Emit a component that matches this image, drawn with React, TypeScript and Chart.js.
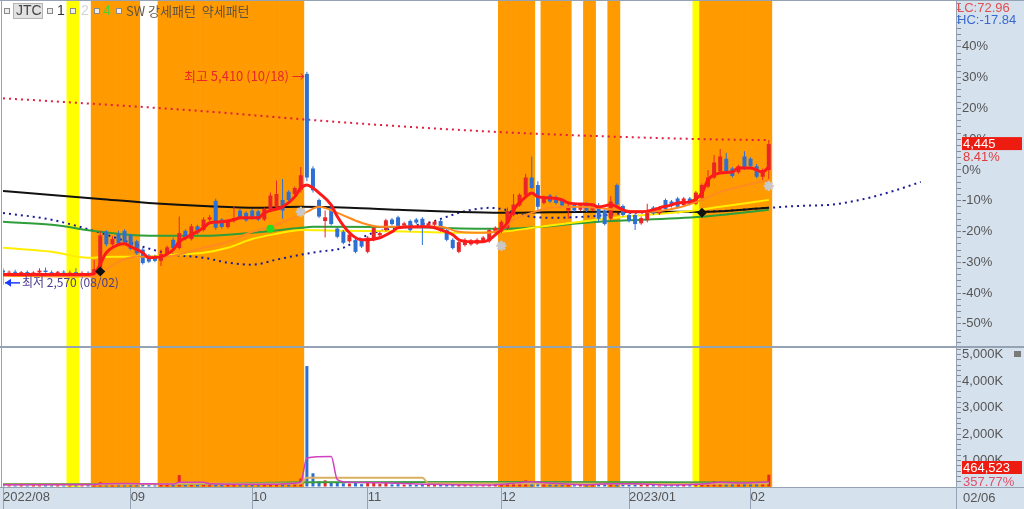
import React, { useEffect, useRef } from 'react';
import { Chart, registerables } from 'chart.js';

Chart.register(...registerables);

// ---------- categories: trading days 2022/08/02 .. 2023/02/06 ----------
const AUG_2022 = [2, 3, 4, 5, 8, 9, 10, 11, 12, 16, 17, 18, 19, 22, 23, 24, 25, 26, 29, 30, 31];
const SEP_2022 = [1, 2, 5, 6, 7, 8, 13, 14, 15, 16, 19, 20, 21, 22, 23, 26, 27, 28, 29, 30];
const OCT_2022 = [4, 5, 6, 7, 11, 12, 13, 14, 17, 18, 19, 20, 21, 24, 25, 26, 27, 28, 31];
const NOV_2022 = [1, 2, 3, 4, 7, 8, 9, 10, 11, 14, 15, 16, 17, 18, 21, 22, 23, 24, 25, 28, 29, 30];
const DEC_2022 = [1, 2, 5, 6, 7, 8, 9, 12, 13, 14, 15, 16, 19, 20, 21, 22, 23, 26, 27, 28, 29];
const JAN_2023 = [2, 3, 4, 5, 6, 9, 10, 11, 12, 13, 16, 17, 18, 19, 20, 25, 26, 27, 30, 31];
const FEB_2023 = [1, 2, 3, 6];
const MONTH_NUMS = ['08', '09', '10', '11', '12', '01', '02'];
const MONTH_TICK_LABELS = ['2022/08', '09', '10', '11', '12', '2023/01', '02'];
const MONTH_DAYS = [AUG_2022, SEP_2022, OCT_2022, NOV_2022, DEC_2022, JAN_2023, FEB_2023];
const FUTURE_SLOTS = 31;

// ---------- daily candles (KRW) ----------
const OPEN = [
  2760, 2735, 2745, 2730, 2740, 2725, 2735, 2760, 2740, 2730, 2745, 2735, 2740, 2725, 2730, 2720, 2800, 3280, 3110, 3250,
  3290, 3230, 3150, 3040, 2960, 2950, 2890, 2980, 3170, 3060, 3290, 3180, 3350, 3300, 3440, 3690, 3440, 3340, 3420, 3560,
  3530, 3560, 3550, 3440, 3570, 3600, 3700, 3810, 3780, 3835, 5380, 4120, 3700, 3420, 3600, 3320, 3280, 3150, 3170, 3170,
  3010, 3170, 3230, 3300, 3440, 3470, 3360, 3420, 3440, 3450, 3360, 3370, 3420, 3300, 3170, 3010, 3100, 3110, 3120, 3150,
  3150, 3270, 3280, 3320, 3500, 3630, 3760, 4000, 3900, 3660, 3760, 3740, 3700, 3560, 3640, 3570, 3650, 3570, 3610, 3560,
  3450, 3900, 3620, 3500, 3500, 3390, 3430, 3600, 3520, 3700, 3680, 3720, 3630, 3720, 3650, 3730, 3880, 4000, 4080, 4250,
  4120, 4070, 4280, 4250, 4150, 4010, 4100,
];
const HIGH = [
  2790, 2760, 2770, 2755, 2760, 2750, 2790, 2800, 2760, 2755, 2765, 2760, 2790, 2750, 2750, 2900, 3290, 3300, 3220, 3290,
  3310, 3250, 3170, 3060, 2980, 2970, 3040, 3090, 3200, 3480, 3310, 3380, 3370, 3470, 3500, 3720, 3460, 3440, 3620, 3580,
  3550, 3580, 3570, 3600, 3800, 3960, 3980, 3830, 3880, 4140, 5410, 4150, 3720, 3560, 3620, 3340, 3300, 3260, 3190, 3190,
  3220, 3350, 3280, 3450, 3460, 3490, 3410, 3440, 3460, 3470, 3410, 3430, 3440, 3320, 3190, 3160, 3190, 3180, 3190, 3220,
  3320, 3350, 3430, 3600, 3780, 3790, 4050, 4280, 3950, 3760, 3780, 3760, 3720, 3650, 3660, 3660, 3670, 3650, 3660, 3580,
  3750, 3920, 3640, 3520, 3520, 3480, 3650, 3620, 3620, 3720, 3700, 3740, 3740, 3740, 3820, 3920, 4100, 4300, 4380, 4330,
  4140, 4170, 4350, 4270, 4180, 4120, 4500,
];
const LOW = [
  2570, 2700, 2715, 2700, 2715, 2700, 2720, 2730, 2710, 2710, 2720, 2710, 2715, 2700, 2690, 2680, 2780, 3080, 3090, 3100,
  3120, 3030, 2970, 2840, 2860, 2870, 2820, 2960, 3040, 3040, 3160, 3160, 3240, 3280, 3420, 3300, 3320, 3320, 3400, 3440,
  3410, 3440, 3420, 3420, 3550, 3580, 3450, 3680, 3760, 3800, 3950, 3800, 3460, 3200, 3360, 3190, 3110, 3130, 2990, 3060,
  2990, 3150, 3210, 3280, 3360, 3320, 3340, 3280, 3380, 3100, 3340, 3350, 3280, 3150, 3040, 2990, 3080, 3090, 3100, 3130,
  3130, 3250, 3260, 3300, 3480, 3610, 3740, 3840, 3570, 3640, 3660, 3640, 3610, 3450, 3540, 3550, 3540, 3550, 3400, 3360,
  3430, 3620, 3480, 3400, 3300, 3370, 3400, 3500, 3500, 3560, 3600, 3590, 3610, 3630, 3630, 3710, 3860, 3980, 4060, 4060,
  4000, 4050, 4100, 4130, 3990, 3960, 3980,
];
const CLOSE = [
  2735, 2745, 2730, 2740, 2725, 2735, 2760, 2740, 2730, 2745, 2735, 2740, 2725, 2730, 2720, 2780, 3230, 3110, 3180, 3120,
  3140, 3050, 2990, 2860, 2880, 2890, 2980, 3070, 3060, 3260, 3180, 3350, 3260, 3440, 3470, 3330, 3340, 3420, 3460, 3460,
  3430, 3460, 3440, 3580, 3760, 3780, 3560, 3700, 3860, 4030, 4000, 3830, 3480, 3470, 3380, 3210, 3130, 3240, 3010, 3080,
  3200, 3330, 3260, 3430, 3380, 3340, 3390, 3300, 3400, 3350, 3390, 3410, 3300, 3170, 3060, 3140, 3170, 3160, 3170, 3200,
  3300, 3330, 3410, 3550, 3640, 3770, 4000, 3860, 3610, 3740, 3680, 3660, 3630, 3620, 3560, 3640, 3560, 3630, 3450, 3380,
  3680, 3640, 3500, 3420, 3380, 3460, 3560, 3520, 3600, 3580, 3620, 3610, 3720, 3650, 3800, 3900, 4000, 4200, 4280, 4080,
  4020, 4150, 4120, 4150, 4010, 4100, 4445,
];
const VOLUME = [
  90000, 70000, 65000, 80000, 60000, 75000, 110000, 95000, 70000, 85000, 60000, 70000, 100000, 65000, 75000, 140000, 180000, 120000, 90000, 100000,
  110000, 90000, 80000, 110000, 70000, 60000, 100000, 90000, 80000, 450000, 150000, 130000, 90000, 110000, 80000, 140000, 90000, 80000, 110000, 70000,
  70000, 80000, 70000, 90000, 150000, 180000, 130000, 90000, 110000, 320000, 4570000, 520000, 220000, 250000, 180000, 160000, 140000, 130000, 150000, 110000,
  200000, 180000, 120000, 160000, 100000, 110000, 90000, 100000, 80000, 120000, 90000, 80000, 100000, 110000, 120000, 100000, 80000, 70000, 60000, 70000,
  90000, 80000, 120000, 200000, 180000, 160000, 250000, 220000, 180000, 110000, 100000, 90000, 80000, 100000, 70000, 80000, 90000, 70000, 110000, 120000,
  170000, 200000, 100000, 90000, 110000, 80000, 120000, 70000, 60000, 80000, 70000, 80000, 90000, 70000, 110000, 180000, 160000, 220000, 200000, 150000,
  120000, 130000, 150000, 110000, 140000, 101476, 464523,
];

// ---------- indicator lines: [day index, value] ----------
const MA_SHORT: [number, number][] = [
  [0, 2707], [14, 2707], [15, 2720], [17, 2999], [19, 3105], [20, 3118], [21, 3078], [23, 2999], [24, 2932], [26, 2946],
  [28, 3038], [29, 3145], [31, 3237], [33, 3330], [34, 3397], [36, 3410], [38, 3437], [39, 3463], [42, 3463], [43, 3529],
  [46, 3609], [48, 3742], [49, 3861], [50, 3901], [51, 3861], [52, 3795], [54, 3636], [55, 3480], [57, 3264], [59, 3171],
  [60, 3171], [62, 3198], [64, 3277], [65, 3330], [69, 3344], [70, 3344], [72, 3304], [74, 3237], [75, 3171], [77, 3145],
  [79, 3145], [80, 3171], [81, 3237], [83, 3397], [84, 3569], [86, 3742], [87, 3795], [88, 3742], [90, 3728], [92, 3702],
  [93, 3662], [97, 3636], [98, 3609], [100, 3636], [102, 3569], [103, 3543], [105, 3543], [107, 3569], [108, 3596], [110, 3636],
  [111, 3662], [113, 3675], [115, 3795], [116, 3967], [118, 4060], [120, 4073], [121, 4127], [123, 4127], [125, 4073], [126, 4140],
];
const MA_MID: [number, number][] = [
  [0, 2693], [15, 2680], [16, 2720], [19, 2880], [22, 2946], [25, 2946], [28, 2959], [33, 3065], [37, 3145], [41, 3277],
  [44, 3344], [47, 3437], [50, 3543], [52, 3609], [55, 3529], [59, 3397], [62, 3344], [69, 3344], [72, 3344], [75, 3277],
  [79, 3264], [82, 3304], [84, 3437], [87, 3529], [90, 3596], [95, 3609], [101, 3569], [106, 3543], [111, 3596], [115, 3702],
  [118, 3808], [121, 3874], [126, 3967],
];
const MA_YELLOW: [number, number][] = [
  [0, 3065], [8, 3012], [14, 2932], [18, 2946], [23, 2946], [28, 2972], [33, 2999], [37, 3065], [41, 3180], [45, 3250],
  [49, 3300], [56, 3290], [66, 3280], [74, 3264], [82, 3277], [88, 3340], [95, 3410], [102, 3476], [112, 3543], [118, 3609],
  [126, 3702],
];
const MA_GREEN: [number, number][] = [
  [0, 3410], [8, 3370], [16, 3277], [24, 3224], [33, 3224], [41, 3264], [49, 3330], [51, 3344], [65, 3340], [82, 3317],
  [98, 3410], [115, 3476], [126, 3569],
];
const MA_BLACK: [number, number][] = [
  [0, 3821], [8, 3768], [16, 3715], [24, 3662], [33, 3622], [42, 3596], [49, 3609], [57, 3596], [65, 3569], [74, 3543],
  [82, 3529], [98, 3543], [115, 3543], [126, 3596],
];
const DOTTED_RED: [number, number][] = [
  [0, 5055], [16, 4976], [33, 4883], [49, 4777], [65, 4684], [82, 4604], [98, 4551], [115, 4511], [126, 4498],
];
const DOTTED_NAVY: [number, number][] = [
  [0, 3529], [8, 3437], [16, 3264], [23, 3078], [28, 2972], [33, 2932], [37, 2866], [41, 2839], [45, 2906], [49, 2972],
  [52, 3012], [56, 3065], [59, 3198], [61, 3264], [65, 3330], [70, 3397], [73, 3476], [75, 3529], [77, 3569], [80, 3596],
  [82, 3582], [86, 3490], [90, 3463], [98, 3490], [103, 3529], [115, 3543], [126, 3596], [131, 3622], [136, 3636], [141, 3702],
  [146, 3808], [151, 3941],
];
const VOL_MA_SHORT: [number, number][] = [
  [0, 85000], [15, 95000], [16, 120000], [20, 130000], [28, 110000], [29, 180000], [33, 180000], [34, 120000], [44, 100000], [48, 140000],
  [49, 190000], [50, 1100000], [54, 1150000], [55, 280000], [57, 180000], [62, 160000], [70, 100000], [80, 80000], [83, 120000], [87, 200000],
  [90, 150000], [96, 85000], [100, 120000], [104, 120000], [110, 75000], [115, 110000], [118, 180000], [122, 150000], [126, 200000],
];
const VOL_MA_MID: [number, number][] = [
  [0, 90000], [16, 95000], [29, 120000], [49, 130000], [50, 350000], [69, 350000], [70, 140000], [90, 130000], [110, 110000], [126, 140000],
];
const VOL_MA_LONG: [number, number][] = [
  [0, 110000], [30, 110000], [50, 180000], [80, 190000], [109, 180000], [126, 160000],
];

// ---------- signal markers ----------
const STAR_MARKS: [number, number][] = [[49, 3543], [82, 3090], [126, 3888]];
const GREEN_MARKS: [number, number][] = [[44, 3317]];
const DIAMOND_MARKS: [number, number][] = [[16, 2747], [115, 3530]];

// ---------- pattern bands (day-index ranges) ----------
const STRONG_RANGES: [number, number][] = [[15, 22], [26, 49], [82, 87], [89, 93], [96, 97], [100, 101], [115, 126]];
const WEAK_RANGES: [number, number][] = [[11, 12], [114, 114]];

// ---------- axis settings ----------
const BASE_PRICE = 4100; // previous close = 0%
const PCT_MIN = -57.5;
const PCT_MAX = 54.9;
const PCT_LABEL_MIN = -50;
const PCT_LABEL_MAX = 40;
const VOL_MAX = 5290000;

// ---------- built tables ----------
const DATES: string[] = MONTH_DAYS.flatMap((days, m) => days.map((d) => `${MONTH_NUMS[m]}/${String(d).padStart(2, '0')}`));
const MONTH_START: number[] = [];
{
  let acc = 0;
  MONTH_DAYS.forEach((days) => { MONTH_START.push(acc); acc += days.length; });
}
const LAST = CLOSE.length - 1;
const X_MAX = LAST + FUTURE_SLOTS - 0.2;

const UP = '#e8262a';
const DOWN = '#2e6fd3';
const AXIS_BG = '#d6e1ee';
const FRAME = '#95a2b4';
const FONT = '"Liberation Sans", "DejaVu Sans", sans-serif';
const KFONT = '"Noto Sans CJK KR", "Noto Sans", sans-serif';
const fmt = (n: number) => n.toLocaleString('en-US');

const isUp = (i: number) => CLOSE[i] >= OPEN[i];
const expand = (ranges: [number, number][]) => ranges.flatMap(([a, b]) => {
  const out: { x: number; y: number }[] = [];
  for (let i = a; i <= b; i++) out.push({ x: i, y: 1 });
  return out;
});
const pts = (arr: [number, number][]) => arr.map(([x, y]) => ({ x, y }));

const lineDs = (data: [number, number][], color: string, width: number, order: number, yAxisID = 'y', dash: number[] = []) => ({
  type: 'line' as const,
  data: pts(data),
  borderColor: color,
  borderWidth: width,
  borderDash: dash,
  borderCapStyle: 'butt' as const,
  pointRadius: 0,
  cubicInterpolationMode: 'monotone' as const,
  xAxisID: 'x',
  yAxisID,
  order,
});

const noPadY = (s: any) => { s.width = 68; s.paddingTop = 0; s.paddingBottom = 0; };

const decoPlugin = {
  id: 'deco',
  beforeDraw(chart: any) {
    const { ctx, chartArea: a, width, height } = chart;
    ctx.save();
    ctx.fillStyle = AXIS_BG;
    ctx.fillRect(0, 0, width, height);
    ctx.fillStyle = '#ffffff';
    ctx.fillRect(0, 0, a.right, a.bottom);
    ctx.restore();
  },
  afterDatasetsDraw(chart: any) {
    const { ctx, chartArea: a, width, height, scales } = chart;
    const xs = scales.x;
    const ys = scales.y;
    const yv = scales.yv;
    ctx.save();
    // pane divider and frame
    ctx.strokeStyle = FRAME;
    ctx.lineWidth = 2;
    ctx.beginPath();
    ctx.moveTo(0, yv.top);
    ctx.lineTo(width, yv.top);
    ctx.stroke();
    ctx.lineWidth = 1;
    ctx.beginPath();
    ctx.moveTo(1.5, 0); ctx.lineTo(1.5, a.bottom);
    ctx.moveTo(0, 0.5); ctx.lineTo(width, 0.5);
    ctx.moveTo(0, a.bottom + 0.5); ctx.lineTo(width, a.bottom + 0.5);
    ctx.moveTo(a.right + 0.5, 0); ctx.lineTo(a.right + 0.5, height);
    ctx.stroke();

    // legend
    ctx.textBaseline = 'middle';
    ctx.textAlign = 'left';
    const sq = (x: number) => {
      ctx.fillStyle = '#eeeeee';
      ctx.fillRect(x, 8, 6, 6);
      ctx.strokeStyle = '#8a8a8a';
      ctx.strokeRect(x + 0.5, 8.5, 5, 5);
    };
    sq(4);
    ctx.fillStyle = '#e2e2e2';
    ctx.fillRect(13, 3, 30, 16);
    ctx.strokeStyle = '#b4b4b4';
    ctx.strokeRect(13.5, 3.5, 29, 15);
    ctx.font = `14px ${FONT}`;
    ctx.fillStyle = '#444';
    ctx.fillText('JTC', 16, 11.5);
    sq(47);
    ctx.fillStyle = '#333';
    ctx.fillText('1', 57, 11.5);
    sq(70);
    ctx.fillStyle = '#d4d4d4';
    ctx.fillText('2', 81, 11.5);
    sq(94);
    ctx.fillStyle = '#55cc33';
    ctx.fillText('4', 103, 11.5);
    sq(116);
    ctx.font = `13px ${KFONT}`;
    ctx.fillStyle = '#5e5444';
    ctx.fillText('SW 강세패턴  약세패턴', 126, 11.5);

    // highest / lowest annotations
    const iHi = HIGH.indexOf(Math.max(...HIGH));
    const iLo = LOW.indexOf(Math.min(...LOW));
    ctx.font = `13px ${KFONT}`;
    ctx.textAlign = 'right';
    ctx.fillStyle = '#e8262a';
    ctx.fillText(`최고 ${fmt(HIGH[iHi])} (${DATES[iHi]}) →`, xs.getPixelForValue(iHi) - 2, ys.getPixelForValue(HIGH[iHi]) + 4);

    const lx = xs.getPixelForValue(iLo);
    const ly = ys.getPixelForValue(LOW[iLo]) - 2;
    ctx.strokeStyle = '#1a3cff';
    ctx.fillStyle = '#1a3cff';
    ctx.lineWidth = 1.5;
    ctx.beginPath();
    ctx.moveTo(lx + 2, ly); ctx.lineTo(lx + 17, ly);
    ctx.stroke();
    ctx.beginPath();
    ctx.moveTo(lx + 2, ly); ctx.lineTo(lx + 8, ly - 4); ctx.lineTo(lx + 8, ly + 4); ctx.closePath();
    ctx.fill();
    ctx.textAlign = 'left';
    ctx.font = `12px ${KFONT}`;
    ctx.fillStyle = '#4a3c8c';
    ctx.fillText(`최저 ${fmt(LOW[iLo])} (${DATES[iLo]})`, lx + 19, ly);
    ctx.restore();
  },
  afterDraw(chart: any) {
    const { ctx, chartArea: a, scales } = chart;
    const ys = scales.y;
    const yv = scales.yv;
    const bx = a.right + 6;
    ctx.save();
    ctx.textBaseline = 'middle';
    ctx.textAlign = 'left';
    ctx.font = `13px ${FONT}`;

    const lo = Math.min(...LOW);
    const hi = Math.max(...HIGH);
    ctx.fillStyle = '#e05050';
    ctx.fillText(`LC:${((CLOSE[LAST] / lo - 1) * 100).toFixed(2)}`, a.right + 1, 8);
    ctx.fillStyle = '#3a6ad0';
    ctx.fillText(`HC:${((CLOSE[LAST] / hi - 1) * 100).toFixed(2)}`, a.right + 1, 20);

    const py = ys.getPixelForValue(CLOSE[LAST]);
    ctx.fillStyle = '#ee1c10';
    ctx.fillRect(bx, py - 7, 1022 - bx, 13);
    ctx.fillStyle = '#ffffff';
    ctx.fillText(fmt(CLOSE[LAST]), bx + 1, py);
    ctx.fillStyle = '#e23a3a';
    ctx.fillText(`${((CLOSE[LAST] / CLOSE[LAST - 1] - 1) * 100).toFixed(2)}%`, bx + 1, py + 13);

    const vy = Math.min(yv.getPixelForValue(VOLUME[LAST]), yv.bottom - 19);
    ctx.fillStyle = '#ee1c10';
    ctx.fillRect(bx, vy - 7, 1022 - bx, 13);
    ctx.fillStyle = '#ffffff';
    ctx.fillText(fmt(VOLUME[LAST]), bx + 1, vy);
    ctx.fillStyle = '#e05068';
    ctx.fillText(`${((VOLUME[LAST] / VOLUME[LAST - 1] - 1) * 100).toFixed(2)}%`, bx + 1, vy + 14);

    ctx.fillStyle = '#555';
    ctx.fillText(DATES[LAST], bx + 1, a.bottom + 11);

    ctx.fillStyle = '#7a7a7a';
    ctx.fillRect(1014, yv.top + 4, 7, 6);
    ctx.restore();
  },
};

export default function App() {
  const ref = useRef<HTMLCanvasElement>(null);

  useEffect(() => {
    const canvas = ref.current;
    if (!canvas) return;

    const wickData = DATES.map((_, i) => ({ x: i, y: [LOW[i], HIGH[i]] }));
    const bodyData = DATES.map((_, i) => ({ x: i, y: [OPEN[i], CLOSE[i]] }));
    const volData = DATES.map((_, i) => ({ x: i, y: VOLUME[i] }));
    const candleColors = DATES.map((_, i) => (isUp(i) ? UP : DOWN));

    const chart = new Chart(canvas, {
      type: 'bar',
      data: {
        datasets: [
          {
            type: 'bar', data: expand(STRONG_RANGES) as any, backgroundColor: '#ff9a00', xAxisID: 'x', yAxisID: 'yb',
            barPercentage: 1, categoryPercentage: 1, grouped: false, borderWidth: 0, order: 100,
          },
          {
            type: 'bar', data: expand(WEAK_RANGES) as any, backgroundColor: '#ffff00', xAxisID: 'x', yAxisID: 'yb',
            barPercentage: 1, categoryPercentage: 1, grouped: false, borderWidth: 0, order: 99,
          },
          {
            type: 'bar', data: volData as any, backgroundColor: candleColors, xAxisID: 'x', yAxisID: 'yv',
            barThickness: 3, grouped: false, borderWidth: 0, inflateAmount: 0, order: 50,
          },
          lineDs(VOL_MA_LONG, '#3c9c3c', 2, 42, 'yv'),
          lineDs(VOL_MA_MID, '#d8b060', 2, 41, 'yv'),
          lineDs(VOL_MA_SHORT, '#d040c0', 1.5, 40, 'yv'),
          lineDs(DOTTED_RED, '#e02040', 2, 35, 'y', [2, 4]),
          lineDs(DOTTED_NAVY, '#1c1c9a', 2, 34, 'y', [2, 4]),
          lineDs(MA_BLACK, '#111111', 2, 33),
          lineDs(MA_GREEN, '#2e9e3a', 2, 32),
          lineDs(MA_YELLOW, '#ffee00', 2, 31),
          {
            type: 'bar', data: wickData as any, backgroundColor: candleColors, xAxisID: 'x', yAxisID: 'y',
            barThickness: 1, grouped: false, borderWidth: 0, inflateAmount: 0, order: 20,
          },
          {
            type: 'bar', data: bodyData as any, backgroundColor: candleColors, xAxisID: 'x', yAxisID: 'y',
            barThickness: 4, grouped: false, borderWidth: 0, inflateAmount: 0, order: 19,
          },
          lineDs(MA_MID, '#ff8a20', 2, 12),
          lineDs(MA_SHORT, '#ff1a1a', 3, 11),
          {
            type: 'line', data: pts(STAR_MARKS) as any, showLine: false, pointStyle: 'star', pointRadius: 5,
            pointBorderWidth: 2.5, pointBorderColor: '#c8c8c8', pointBackgroundColor: '#c8c8c8', xAxisID: 'x', yAxisID: 'y', order: 5,
          },
          {
            type: 'line', data: pts(GREEN_MARKS) as any, showLine: false, pointStyle: 'circle', pointRadius: 4,
            pointBorderWidth: 0, pointBackgroundColor: '#22dd22', xAxisID: 'x', yAxisID: 'y', order: 4,
          },
          {
            type: 'line', data: pts(DIAMOND_MARKS) as any, showLine: false, pointStyle: 'rectRot', pointRadius: 5,
            pointBorderWidth: 0, pointBackgroundColor: '#111111', xAxisID: 'x', yAxisID: 'y', order: 3,
          },
        ] as any,
      },
      options: {
        responsive: false,
        devicePixelRatio: 1,
        animation: false,
        events: [],
        layout: { autoPadding: false, padding: { left: 3, top: 1, right: 0, bottom: 0 } },
        plugins: { legend: { display: false }, tooltip: { enabled: false } },
        scales: {
          x: {
            type: 'linear',
            position: 'bottom',
            min: 0,
            max: X_MAX,
            offset: false,
            afterBuildTicks: (s: any) => { s.ticks = MONTH_START.map((v) => ({ value: v })); },
            afterFit: (s: any) => { s.height = 22; s.paddingLeft = 0; s.paddingRight = 0; },
            ticks: {
              autoSkip: false,
              maxRotation: 0,
              minRotation: 0,
              align: 'start',
              padding: -19,
              color: '#555',
              font: { family: FONT, size: 13 },
              callback: (v: any) => {
                const k = MONTH_START.indexOf(Number(v));
                return k >= 0 ? MONTH_TICK_LABELS[k] : '';
              },
            },
            grid: { drawOnChartArea: false, drawTicks: true, tickLength: 22, tickColor: FRAME, offset: false },
            border: { display: true, color: FRAME },
          },
          y: {
            type: 'linear',
            position: 'right',
            stack: 'pane',
            stackWeight: 346,
            min: BASE_PRICE * (1 + PCT_MIN / 100),
            max: BASE_PRICE * (1 + PCT_MAX / 100),
            afterBuildTicks: (s: any) => {
              const t: { value: number }[] = [];
              for (let k = -56; k <= 54; k += 2) t.push({ value: BASE_PRICE * (1 + k / 100) });
              s.ticks = t;
            },
            afterFit: noPadY,
            ticks: {
              autoSkip: false,
              padding: 1,
              color: '#555',
              font: { family: FONT, size: 13 },
              callback: (v: any) => {
                const k = Math.round((Number(v) / BASE_PRICE - 1) * 100);
                return k % 10 === 0 && k >= PCT_LABEL_MIN && k <= PCT_LABEL_MAX ? `${k === 0 ? 0 : k}%` : '';
              },
            },
            grid: { drawOnChartArea: false, drawTicks: true, tickLength: 5, tickColor: '#8a8a8a' },
            border: { display: true, color: FRAME },
          },
          yv: {
            type: 'linear',
            position: 'right',
            stack: 'pane',
            stackWeight: 140,
            min: 0,
            max: VOL_MAX,
            afterBuildTicks: (s: any) => {
              const t: { value: number }[] = [];
              for (let v = 0; v <= 5200000; v += 200000) t.push({ value: v });
              s.ticks = t;
            },
            afterFit: noPadY,
            ticks: {
              autoSkip: false,
              padding: 1,
              color: '#555',
              font: { family: FONT, size: 13 },
              callback: (v: any) => {
                const n = Number(v);
                return n > 0 && n % 1000000 === 0 ? `${fmt(n / 1000)}K` : '';
              },
            },
            grid: { drawOnChartArea: false, drawTicks: true, tickLength: 5, tickColor: '#8a8a8a' },
            border: { display: true, color: FRAME },
          },
          yb: {
            type: 'linear',
            display: false,
            position: 'left',
            min: 0,
            max: 1,
          },
        },
      } as any,
      plugins: [decoPlugin],
    });

    return () => chart.destroy();
  }, []);

  return (
    <div style={{ position: 'fixed', left: 0, top: 0, width: 1024, height: 509, background: '#ffffff' }}>
      <canvas ref={ref} width={1024} height={509} style={{ display: 'block', width: 1024, height: 509 }} />
    </div>
  );
}
